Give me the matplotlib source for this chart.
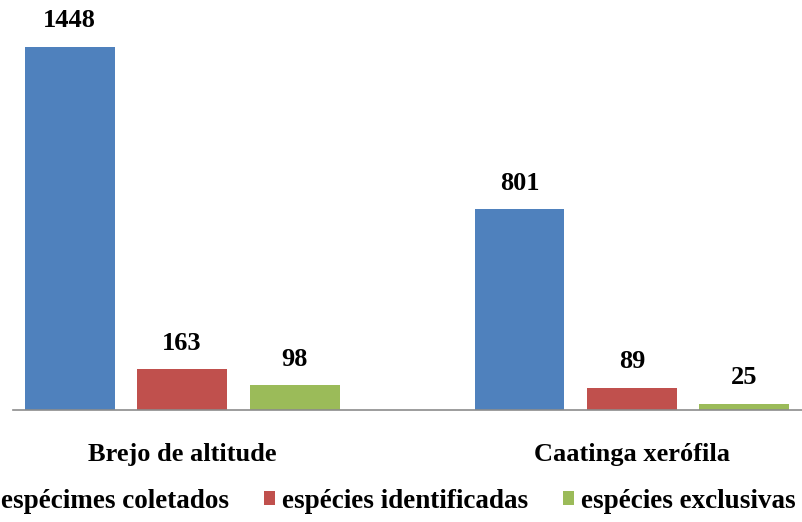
import numpy as np
import matplotlib.pyplot as plt

plt.rcParams['font.family'] = ['Liberation Serif', 'DejaVu Serif']
plt.rcParams['font.weight'] = 'bold'

grupos = ['Brejo de altitude', 'Caatinga xerófila']
series = ['espécimes coletados', 'espécies identificadas', 'espécies exclusivas']
valores = {
    'espécimes coletados': [1448, 801],
    'espécies identificadas': [163, 89],
    'espécies exclusivas': [98, 25],
}
cores = ['#4F81BD', '#C0504D', '#9BBB59']

fig = plt.figure(figsize=(8.02, 5.22), dpi=100)
ax = fig.add_axes([13 / 802, 112 / 522, 789 / 802, 410 / 522])

x = np.arange(len(grupos))
largura = 0.2
desloc = 0.25

barras = []
for i, (nome, cor) in enumerate(zip(series, cores)):
    pos = x + (i - 1) * desloc
    b = ax.bar(pos, valores[nome], largura, color=cor, label=nome, zorder=2)
    barras.append(b)
    for xi, v in zip(pos, valores[nome]):
        ax.text(xi, v + 58, str(v), ha='center', va='bottom',
                fontsize=19, fontweight='bold')

ax.set_xlim(-0.3756, 1.3778)
ax.set_ylim(0, 1635)
ax.set_yticks([])
ax.set_xticks(x)
ax.set_xticklabels(grupos, fontsize=19, fontweight='bold')
ax.tick_params(axis='x', length=0, pad=24)
for lado in ['top', 'right', 'left']:
    ax.spines[lado].set_visible(False)
ax.spines['bottom'].set_color('#8C8C8C')
ax.spines['bottom'].set_linewidth(1.2)

# legenda na base; o primeiro marcador fica fora da margem esquerda
fig.legend(handles=barras, labels=series, loc='center left',
           bbox_to_anchor=(-17 / 802, 21 / 522), ncol=3, frameon=False,
           fontsize=19.5, handlelength=0.4, handleheight=0.45, handletextpad=0.26,
           columnspacing=1.3, borderpad=0, borderaxespad=0)

fig.savefig('out.png', dpi=100)
